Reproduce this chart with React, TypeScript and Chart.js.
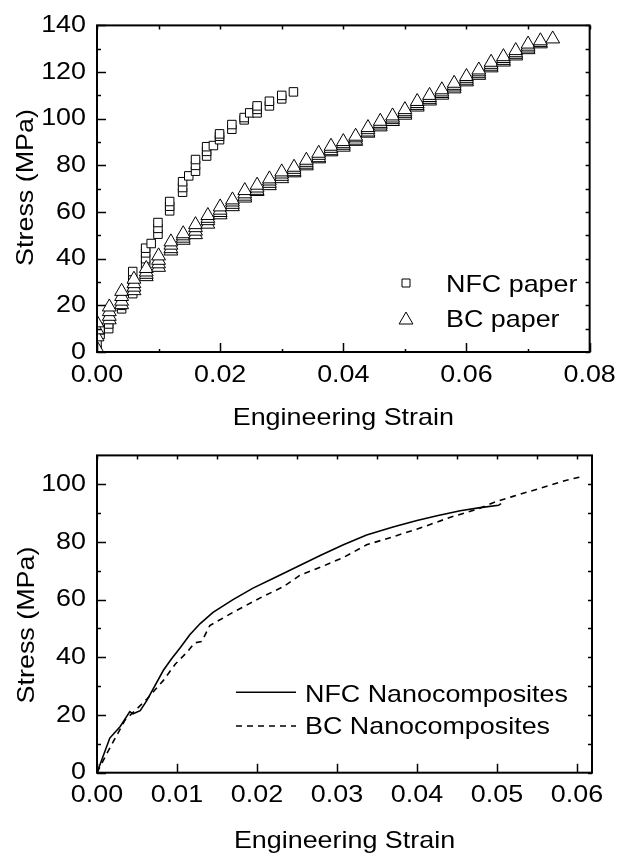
import React, { useEffect, useRef } from 'react';
import { Chart, registerables } from 'chart.js';

Chart.register(...registerables);

const FONT = '"Liberation Sans", Arial, Helvetica, sans-serif';
const STRETCH = 1.12;

// ---------- Top chart data (NFC paper / BC paper) ----------
const NFC_PAPER_STRAIN = [
  0.0, 0.0005, 0.0019, 0.004, 0.0058, 0.0079, 0.0088, 0.0099, 0.0118, 0.0139, 0.0149,
  0.016, 0.0178, 0.0189, 0.0199, 0.0219, 0.0239, 0.0248, 0.026, 0.028, 0.03, 0.0319,
];
const NFC_PAPER_STRESS = [
  [1, 4],
  [7.5, 9.5],
  [10, 12, 14],
  [18.5, 20, 22],
  [25, 28, 31, 34.5],
  [37.5, 40, 42.5, 44.5],
  [46.5],
  [50.5, 53, 55.5],
  [60.5, 62.5, 64.5],
  [68.5, 70.5, 73],
  [75.5],
  [77.5, 80, 82.5],
  [84, 86, 88],
  [88.5],
  [91, 92.5, 93.5],
  [95.5, 97.5],
  [99.5, 100.5],
  [102.5],
  [102.5, 104, 105.5],
  [105.5, 107.5],
  [108.5, 110],
  [111.5],
];

const BC_PAPER_STRAIN = [
  0.0, 0.002, 0.004, 0.006, 0.008, 0.01, 0.012, 0.014, 0.016, 0.018, 0.02, 0.022, 0.024,
  0.026, 0.028, 0.03, 0.032, 0.034, 0.036, 0.038, 0.04, 0.042, 0.044, 0.046, 0.048, 0.05,
  0.052, 0.054, 0.056, 0.058, 0.06, 0.062, 0.064, 0.066, 0.068, 0.07, 0.072, 0.074,
];
// each cluster listed from its top marker downward
const BC_PAPER_STRESS = [
  [12.5, 9.5, 6.5, 1.5],
  [19.3, 17.3, 15.3, 13.8],
  [26, 23.8, 21.8, 20.3],
  [31.2, 29.3, 27.8, 26.3],
  [35.8, 34.3, 33.3, 32.3],
  [41.2, 39.3, 37.8, 36.3],
  [47.2, 45.8, 44.3, 43.3],
  [50.7, 49.8, 48.8, 47.9],
  [54.6, 53.3, 51.8, 50.3],
  [58.5, 57.3, 56.3, 54.8],
  [62.2, 60.8, 59.8, 58.8],
  [65.2, 64.3, 63.3, 62.3],
  [69.2, 67.8, 66.8, 66],
  [71.5, 70.3, 69.3, 68.8],
  [74.2, 73.3, 72.3, 71.3],
  [77.2, 76.3, 75.3, 74.3],
  [79.2, 78.3, 77.3, 76.8],
  [82.2, 81.3, 80.5, 79.8],
  [85.2, 84.3, 83.3, 82.8],
  [88.2, 87.3, 86.3, 85.8],
  [90.2, 89.3, 88.6, 87.8],
  [92.5, 91.8, 90.8, 90.3],
  [96.2, 95.3, 94.3, 93.8],
  [98.9, 98, 97.3, 96.5],
  [101.2, 100.3, 99.6, 98.8],
  [103.9, 103, 102.3, 101.5],
  [107.4, 106.5, 105.7, 105],
  [110, 109.1, 108.3, 107.6],
  [112.4, 111.5, 110.8, 110.1],
  [115.2, 114.3, 113.6, 112.8],
  [118.1, 117.3, 116.5, 115.8],
  [120.9, 120.1, 119.3, 118.6],
  [124.2, 123.3, 122.5, 121.8],
  [126.6, 125.8, 125, 124.3],
  [129.2, 128.3, 127.6, 126.9],
  [132, 131.1, 130.3, 129.6],
  [133.4, 132.7, 132.1],
  [134.2],
];

const TOP_X_MAJOR = [0, 0.02, 0.04, 0.06, 0.08];
const TOP_X_MINOR = [0.01, 0.03, 0.05, 0.07];
const TOP_Y_MAJOR = [0, 20, 40, 60, 80, 100, 120, 140];
const TOP_Y_MINOR = [10, 30, 50, 70, 90, 110, 130];

// ---------- Bottom chart data (nanocomposites) ----------
const NFC_NANO_STRAIN = [
  0, 0.0016, 0.0029, 0.0041, 0.0045, 0.0054, 0.0062, 0.0083, 0.0093, 0.0104, 0.0116,
  0.0129, 0.0145, 0.017, 0.0195, 0.022, 0.0245, 0.0279, 0.0308, 0.0337, 0.037, 0.04,
  0.0425, 0.0454, 0.0479, 0.0502, 0.0505,
];
const NFC_NANO_STRESS = [
  0, 12, 16, 21.2, 20.4, 21.5, 24.9, 35.5, 39.4, 43.3, 47.8,
  51.7, 55.6, 60, 64, 67.3, 70.7, 75.3, 79, 82.4, 85.2, 87.4,
  89.1, 90.8, 91.9, 92.7, 93.3,
];
const BC_NANO_STRAIN = [
  0, 0.0012, 0.0035, 0.0062, 0.0083, 0.0098, 0.0112, 0.0122, 0.0131, 0.0141, 0.017,
  0.0204, 0.0233, 0.0254, 0.0279, 0.0308, 0.0337, 0.037, 0.0408, 0.0441, 0.0475, 0.05,
  0.052, 0.0554, 0.0587, 0.0604, 0.0608,
];
const BC_NANO_STRESS = [
  0, 6.5, 18.2, 25.4, 32, 37.7, 41.6, 45, 45.5, 51, 55.6,
  60.6, 64.5, 68.5, 71.2, 74.6, 79, 81.8, 85.2, 88.5, 91.3, 94.1,
  95.8, 98.6, 101.4, 102.5, 101.6,
];

const BOT_X_MAJOR = [0, 0.01, 0.02, 0.03, 0.04, 0.05, 0.06];
const BOT_X_MINOR = [0.005, 0.015, 0.025, 0.035, 0.045, 0.055];
const BOT_Y_MAJOR = [0, 20, 40, 60, 80, 100];
const BOT_Y_MINOR = [10, 30, 50, 70, 90];

// ---------- helpers ----------
function stretchText(ctx: any) {
  if (!ctx || ctx.__stretched) return;
  const orig = ctx.fillText.bind(ctx);
  ctx.fillText = function (text: string, x: number, y: number, maxWidth?: number) {
    ctx.save();
    ctx.translate(x, y);
    ctx.scale(STRETCH, 1);
    if (maxWidth !== undefined) orig(text, 0, 0, maxWidth / STRETCH);
    else orig(text, 0, 0);
    ctx.restore();
  };
  ctx.__stretched = true;
}

function drawSquare(ctx: CanvasRenderingContext2D, x: number, y: number, half: number) {
  ctx.beginPath();
  ctx.rect(x - half, y - half, 2 * half, 2 * half);
  ctx.fillStyle = '#fff';
  ctx.fill();
  ctx.lineWidth = 1;
  ctx.strokeStyle = '#000';
  ctx.stroke();
}

function drawTriangle(ctx: CanvasRenderingContext2D, x: number, y: number, r: number) {
  ctx.beginPath();
  let rad = 0;
  ctx.moveTo(x + Math.sin(rad) * r, y - Math.cos(rad) * r);
  rad += (2 * Math.PI) / 3;
  ctx.lineTo(x + Math.sin(rad) * r, y - Math.cos(rad) * r);
  rad += (2 * Math.PI) / 3;
  ctx.lineTo(x + Math.sin(rad) * r, y - Math.cos(rad) * r);
  ctx.closePath();
  ctx.fillStyle = '#fff';
  ctx.fill();
  ctx.lineWidth = 1;
  ctx.strokeStyle = '#000';
  ctx.stroke();
}

const framePlugin = {
  id: 'frame',
  afterDraw(chart: any, _args: any, opts: any) {
    const { ctx, chartArea: a } = chart;
    const x = chart.scales.x;
    const y = chart.scales.y;
    ctx.save();
    ctx.strokeStyle = '#000';
    ctx.lineWidth = 1.5;
    ctx.beginPath();
    for (const v of opts.xMajor) {
      const px = Math.round(x.getPixelForValue(v)) + 0.5;
      ctx.moveTo(px, a.bottom);
      ctx.lineTo(px, a.bottom - 9);
      ctx.moveTo(px, a.top);
      ctx.lineTo(px, a.top + 4);
    }
    for (const v of opts.xMinor) {
      const px = Math.round(x.getPixelForValue(v)) + 0.5;
      if (opts.xMinorBottom > 0) {
        ctx.moveTo(px, a.bottom);
        ctx.lineTo(px, a.bottom - opts.xMinorBottom);
      }
      ctx.moveTo(px, a.top);
      ctx.lineTo(px, a.top + 4);
    }
    for (const v of opts.yMajor) {
      const py = Math.round(y.getPixelForValue(v)) + 0.5;
      ctx.moveTo(a.left, py);
      ctx.lineTo(a.left + 9, py);
      ctx.moveTo(a.right, py);
      ctx.lineTo(a.right - 4, py);
    }
    for (const v of opts.yMinor) {
      const py = Math.round(y.getPixelForValue(v)) + 0.5;
      ctx.moveTo(a.left, py);
      ctx.lineTo(a.left + 4, py);
      ctx.moveTo(a.right, py);
      ctx.lineTo(a.right - 4, py);
    }
    ctx.stroke();
    ctx.lineWidth = 2;
    ctx.strokeRect(a.left, a.top, a.right - a.left, a.bottom - a.top);

    // axis titles
    ctx.fillStyle = '#000';
    ctx.font = `24px ${FONT}`;
    ctx.textAlign = 'center';
    ctx.textBaseline = 'alphabetic';
    ctx.fillText(opts.xTitle, (a.left + a.right) / 2, opts.xTitleY);
    ctx.save();
    ctx.translate(opts.yTitleX, opts.yTitleY);
    ctx.rotate(-Math.PI / 2);
    ctx.fillText(opts.yTitle, 0, 0);
    ctx.restore();

    // legend
    ctx.textAlign = 'left';
    for (const item of opts.legend) {
      if (item.kind === 'square') drawSquare(ctx, item.mx, item.my, 4);
      else if (item.kind === 'triangle') drawTriangle(ctx, item.mx, item.my, 8);
      else {
        ctx.beginPath();
        ctx.lineWidth = 1.6;
        ctx.strokeStyle = '#000';
        ctx.setLineDash(item.kind === 'dashed' ? [6, 5] : []);
        ctx.moveTo(item.mx, item.my);
        ctx.lineTo(item.mx2, item.my);
        ctx.stroke();
        ctx.setLineDash([]);
      }
      ctx.fillStyle = '#000';
      ctx.fillText(item.label, item.tx, item.ty);
    }
    ctx.restore();
  },
};

function axisCommon(ticksArr: number[], fmt: (v: number) => string, padding: number) {
  return {
    type: 'linear' as const,
    afterBuildTicks: (s: any) => {
      s.ticks = ticksArr.map((v) => ({ value: v }));
    },
    grid: { display: false, drawTicks: false },
    border: { display: false },
    ticks: {
      autoSkip: false,
      maxRotation: 0,
      minRotation: 0,
      padding,
      color: '#000',
      font: { family: FONT, size: 24 },
      callback: (v: any) => fmt(Number(v)),
    },
  };
}

function buildTop(canvas: HTMLCanvasElement) {
  const nfc: { x: number; y: number }[] = [];
  NFC_PAPER_STRAIN.forEach((sx, i) => {
    NFC_PAPER_STRESS[i].forEach((sy) => nfc.push({ x: sx, y: sy }));
  });
  const bc: { x: number; y: number }[] = [];
  BC_PAPER_STRAIN.forEach((sx, i) => {
    const col = BC_PAPER_STRESS[i].slice().reverse();
    col.forEach((sy) => bc.push({ x: sx, y: sy }));
  });
  return new Chart(canvas, {
    type: 'scatter',
    data: {
      datasets: [
        {
          label: 'BC paper',
          data: bc,
          pointStyle: 'triangle',
          pointRadius: 8,
          backgroundColor: '#fff',
          borderColor: '#000',
          borderWidth: 1,
        },
        {
          label: 'NFC paper',
          data: nfc,
          pointStyle: 'rect',
          pointRadius: 6,
          backgroundColor: '#fff',
          borderColor: '#000',
          borderWidth: 1,
        },
      ],
    },
    options: {
      animation: false,
      responsive: false,
      devicePixelRatio: 1,
      layout: { padding: { top: 23, right: 30, left: 0, bottom: 0 } },
      scales: {
        x: {
          ...axisCommon(TOP_X_MAJOR, (v) => v.toFixed(2), 9),
          min: 0,
          max: 0.08,
          afterFit: (s: any) => {
            s.height = 78;
          },
        },
        y: {
          ...axisCommon(TOP_Y_MAJOR, (v) => String(Math.round(v)), 11),
          min: 0,
          max: 140,
          afterFit: (s: any) => {
            s.width = 97;
          },
        },
      },
      plugins: {
        legend: { display: false },
        tooltip: { enabled: false },
        frame: {
          xMajor: TOP_X_MAJOR,
          xMinor: TOP_X_MINOR,
          yMajor: TOP_Y_MAJOR,
          yMinor: TOP_Y_MINOR,
          xMinorBottom: 3,
          xTitle: 'Engineering Strain',
          xTitleY: 425,
          yTitle: 'Stress (MPa)',
          yTitleX: 33,
          yTitleY: 187.5,
          legend: [
            { kind: 'square', mx: 406, my: 283, label: 'NFC paper', tx: 446, ty: 291.6 },
            { kind: 'triangle', mx: 406, my: 320, label: 'BC paper', tx: 446, ty: 326.6 },
          ],
        },
      } as any,
    },
    plugins: [framePlugin],
  } as any);
}

function buildBottom(canvas: HTMLCanvasElement) {
  const nfc = NFC_NANO_STRAIN.map((sx, i) => ({ x: sx, y: NFC_NANO_STRESS[i] }));
  const bc = BC_NANO_STRAIN.map((sx, i) => ({ x: sx, y: BC_NANO_STRESS[i] }));
  return new Chart(canvas, {
    type: 'scatter',
    data: {
      datasets: [
        {
          label: 'NFC Nanocomposites',
          data: nfc,
          showLine: true,
          pointRadius: 0,
          borderColor: '#000',
          borderWidth: 1.6,
          tension: 0,
        },
        {
          label: 'BC Nanocomposites',
          data: bc,
          showLine: true,
          pointRadius: 0,
          borderColor: '#000',
          borderWidth: 1.6,
          borderDash: [6, 5],
          tension: 0,
        },
      ],
    },
    options: {
      animation: false,
      responsive: false,
      devicePixelRatio: 1,
      layout: { padding: { top: 13.5, right: 30, left: 0, bottom: 0 } },
      scales: {
        x: {
          ...axisCommon(BOT_X_MAJOR, (v) => v.toFixed(2), 8),
          min: 0,
          max: 0.061875,
          afterFit: (s: any) => {
            s.height = 86.3;
          },
        },
        y: {
          ...axisCommon(BOT_Y_MAJOR, (v) => String(Math.round(v)), 11),
          min: 0,
          max: 110,
          afterFit: (s: any) => {
            s.width = 97;
          },
        },
      },
      plugins: {
        legend: { display: false },
        tooltip: { enabled: false },
        frame: {
          xMajor: BOT_X_MAJOR,
          xMinor: BOT_X_MINOR,
          yMajor: BOT_Y_MAJOR,
          yMinor: BOT_Y_MINOR,
          xMinorBottom: 0,
          xTitle: 'Engineering Strain',
          xTitleY: 418,
          yTitle: 'Stress (MPa)',
          yTitleX: 34,
          yTitleY: 195,
          legend: [
            { kind: 'solid', mx: 236, mx2: 296, my: 262.3, label: 'NFC Nanocomposites', tx: 305, ty: 271.7 },
            { kind: 'dashed', mx: 236, mx2: 296, my: 296, label: 'BC Nanocomposites', tx: 305, ty: 304.3 },
          ],
        },
      } as any,
    },
    plugins: [framePlugin],
  } as any);
}

export default function App() {
  const topRef = useRef<HTMLCanvasElement | null>(null);
  const botRef = useRef<HTMLCanvasElement | null>(null);

  useEffect(() => {
    const c1 = topRef.current!;
    const c2 = botRef.current!;
    stretchText(c1.getContext('2d'));
    stretchText(c2.getContext('2d'));
    const ch1 = buildTop(c1);
    const ch2 = buildBottom(c2);
    return () => {
      ch1.destroy();
      ch2.destroy();
    };
  }, []);

  return (
    <div style={{ position: 'absolute', left: 0, top: 0, width: 622, height: 859, background: '#fff' }}>
      <canvas
        ref={topRef}
        width={622}
        height={430}
        style={{ position: 'absolute', left: 0, top: 0, width: 622, height: 430 }}
      />
      <canvas
        ref={botRef}
        width={622}
        height={429}
        style={{ position: 'absolute', left: 0, top: 430, width: 622, height: 429 }}
      />
    </div>
  );
}
